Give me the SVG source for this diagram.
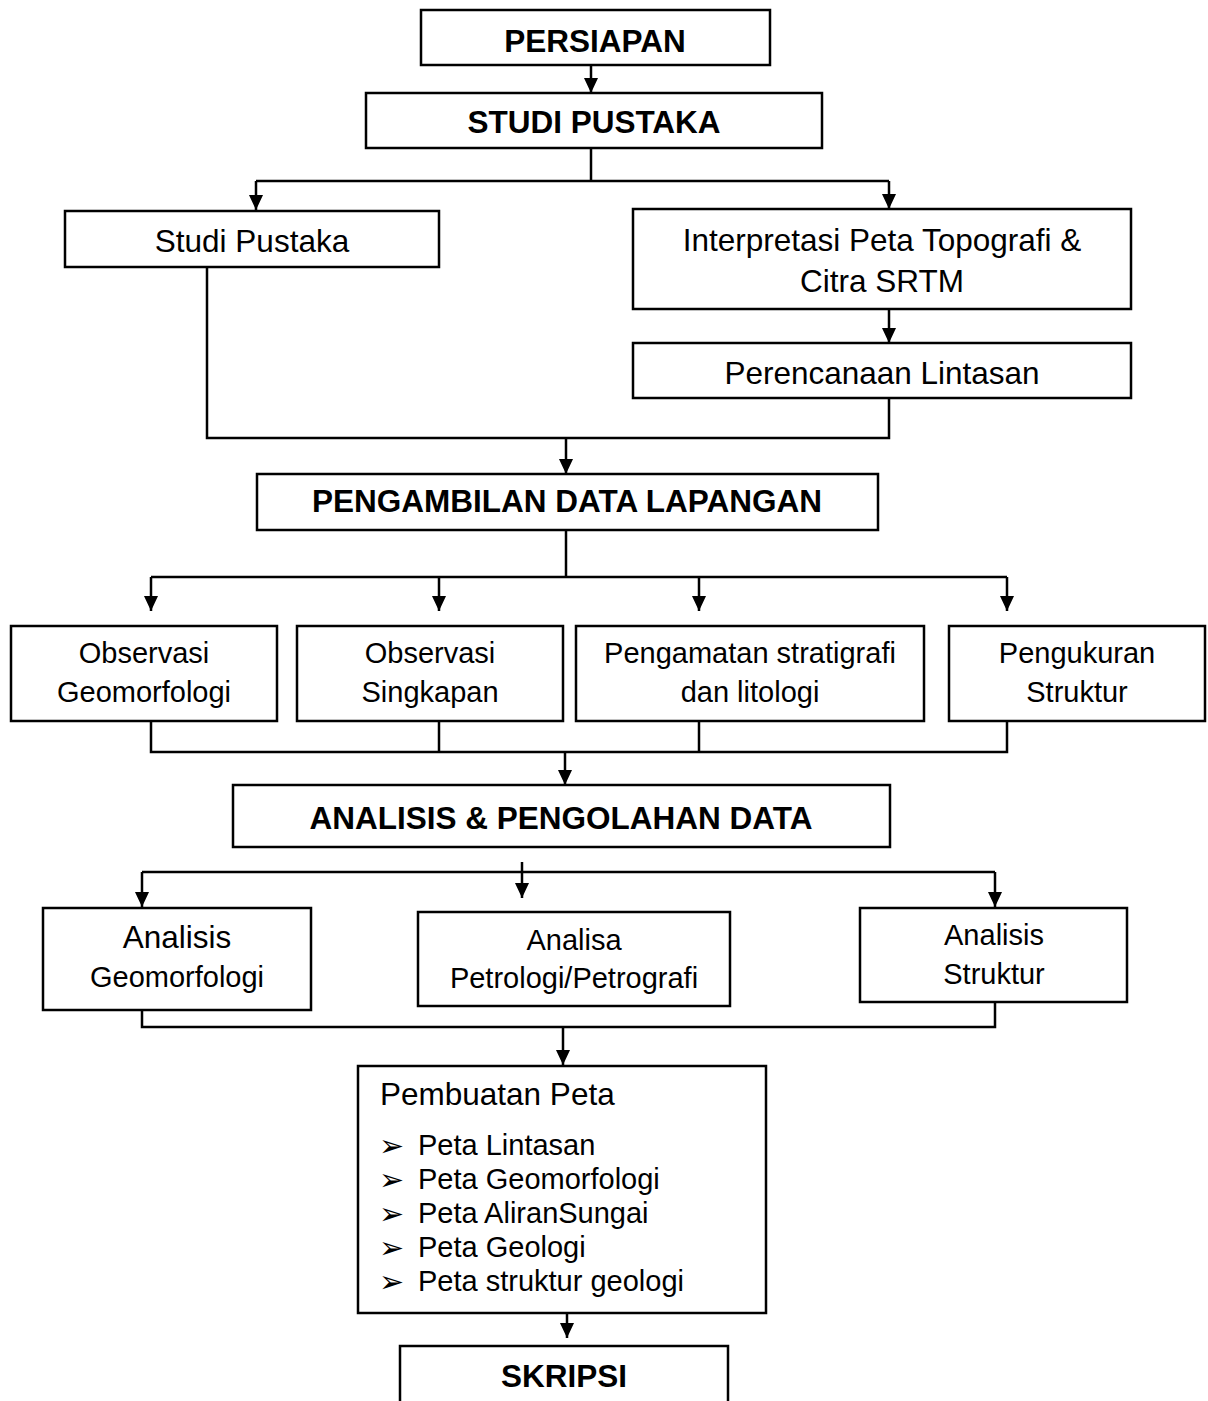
<svg xmlns="http://www.w3.org/2000/svg" width="1208" height="1401" viewBox="0 0 1208 1401">
<style>
  .box { fill: #ffffff; stroke: #000000; stroke-width: 2.5; }
  .con { fill: none; stroke: #000000; stroke-width: 2.5; }
  .arr { fill: none; stroke: #000000; stroke-width: 2.5; marker-end: url(#ah); }
  text { font-family: "Liberation Sans", Arial, sans-serif; fill: #000000; text-anchor: middle; }
  .b { font-weight: bold; font-size: 31.5px; }
  .l { font-size: 31.5px; }
  .s { font-size: 29px; }
  .li { font-size: 29px; text-anchor: start; }
  .bul { font-family: "DejaVu Sans", sans-serif; font-size: 30px; text-anchor: start; }
</style>
<defs>
  <marker id="ah" markerUnits="userSpaceOnUse" markerWidth="15" markerHeight="15" refX="15" refY="7.5" orient="auto">
    <path d="M0,0.5 L15,7.5 L0,14.5 z" fill="#000000"/>
  </marker>
</defs>
<rect width="1208" height="1401" fill="#ffffff"/>

<g id="connectors">
  <path class="arr" d="M591,65 V93"/>
  <path class="con" d="M591,148 V181"/>
  <path class="con" d="M256,181 H889"/>
  <path class="arr" d="M256,181 V210"/>
  <path class="arr" d="M889,181 V209"/>
  <path class="arr" d="M889,309 V343"/>
  <path class="con" d="M207,263 V438 H889 V398"/>
  <path class="arr" d="M566,438 V474"/>
  <path class="con" d="M566,530 V577"/>
  <path class="con" d="M151,577 H1007"/>
  <path class="arr" d="M151,577 V611"/>
  <path class="arr" d="M439,577 V611"/>
  <path class="arr" d="M699,577 V611"/>
  <path class="arr" d="M1007,577 V611"/>
  <path class="con" d="M151,721 V752 H1007 V721"/>
  <path class="con" d="M439,721 V752"/>
  <path class="con" d="M699,721 V752"/>
  <path class="arr" d="M565,752 V785"/>
  <path class="con" d="M142,872 H995"/>
  <path class="arr" d="M142,872 V907"/>
  <path class="arr" d="M995,872 V907"/>
  <path class="arr" d="M522,862 V898"/>
  <path class="con" d="M142,1002 V1027 H995 V1002"/>
  <path class="arr" d="M563,1027 V1065"/>
  <path class="arr" d="M567,1313 V1338"/>
</g>

<g id="persiapan">
  <rect class="box" x="421" y="10" width="349" height="55"/>
  <text class="b" x="595" y="52">PERSIAPAN</text>
</g>
<g id="studi-pustaka-main">
  <rect class="box" x="366" y="93" width="456" height="55"/>
  <text class="b" x="594" y="133">STUDI PUSTAKA</text>
</g>
<g id="studi-pustaka">
  <rect class="box" x="65" y="211" width="374" height="56"/>
  <text class="l" x="252" y="252">Studi Pustaka</text>
</g>
<g id="interpretasi">
  <rect class="box" x="633" y="209" width="498" height="100"/>
  <text class="l" x="882" y="251">Interpretasi Peta Topografi &amp;</text>
  <text class="l" x="882" y="292">Citra SRTM</text>
</g>
<g id="perencanaan">
  <rect class="box" x="633" y="343" width="498" height="55"/>
  <text class="l" x="882" y="384">Perencanaan Lintasan</text>
</g>
<g id="pengambilan">
  <rect class="box" x="257" y="474" width="621" height="56"/>
  <text class="b" x="567" y="512">PENGAMBILAN DATA LAPANGAN</text>
</g>
<g id="obs-geomorfologi">
  <rect class="box" x="11" y="626" width="266" height="95"/>
  <text class="s" x="144" y="663">Observasi</text>
  <text class="s" x="144" y="702">Geomorfologi</text>
</g>
<g id="obs-singkapan">
  <rect class="box" x="297" y="626" width="266" height="95"/>
  <text class="s" x="430" y="663">Observasi</text>
  <text class="s" x="430" y="702">Singkapan</text>
</g>
<g id="pengamatan">
  <rect class="box" x="576" y="626" width="348" height="95"/>
  <text class="s" x="750" y="663">Pengamatan stratigrafi</text>
  <text class="s" x="750" y="702">dan litologi</text>
</g>
<g id="pengukuran">
  <rect class="box" x="949" y="626" width="256" height="95"/>
  <text class="s" x="1077" y="663">Pengukuran</text>
  <text class="s" x="1077" y="702">Struktur</text>
</g>
<g id="analisis-pengolahan">
  <rect class="box" x="233" y="785" width="657" height="62"/>
  <text class="b" x="561" y="829">ANALISIS &amp; PENGOLAHAN DATA</text>
</g>
<g id="analisis-geomorfologi">
  <rect class="box" x="43" y="908" width="268" height="102"/>
  <text class="l" x="177" y="948">Analisis</text>
  <text class="s" x="177" y="987">Geomorfologi</text>
</g>
<g id="analisa-petrologi">
  <rect class="box" x="418" y="912" width="312" height="94"/>
  <text class="s" x="574" y="950">Analisa</text>
  <text class="s" x="574" y="988">Petrologi/Petrografi</text>
</g>
<g id="analisis-struktur">
  <rect class="box" x="860" y="908" width="267" height="94"/>
  <text class="s" x="994" y="945">Analisis</text>
  <text class="s" x="994" y="984">Struktur</text>
</g>
<g id="pembuatan-peta">
  <rect class="box" x="358" y="1066" width="408" height="247"/>
  <text class="l" x="380" y="1105" style="text-anchor:start">Pembuatan Peta</text>
  <text class="bul" x="379" y="1156">➢</text>
  <text class="li" x="418" y="1155">Peta Lintasan</text>
  <text class="bul" x="379" y="1190">➢</text>
  <text class="li" x="418" y="1189">Peta Geomorfologi</text>
  <text class="bul" x="379" y="1224">➢</text>
  <text class="li" x="418" y="1223">Peta AliranSungai</text>
  <text class="bul" x="379" y="1258">➢</text>
  <text class="li" x="418" y="1257">Peta Geologi</text>
  <text class="bul" x="379" y="1292">➢</text>
  <text class="li" x="418" y="1291">Peta struktur geologi</text>
</g>
<g id="skripsi">
  <path class="box" d="M400,1410 V1346 H728 V1410"/>
  <text class="b" x="564" y="1387">SKRIPSI</text>
</g>
</svg>
